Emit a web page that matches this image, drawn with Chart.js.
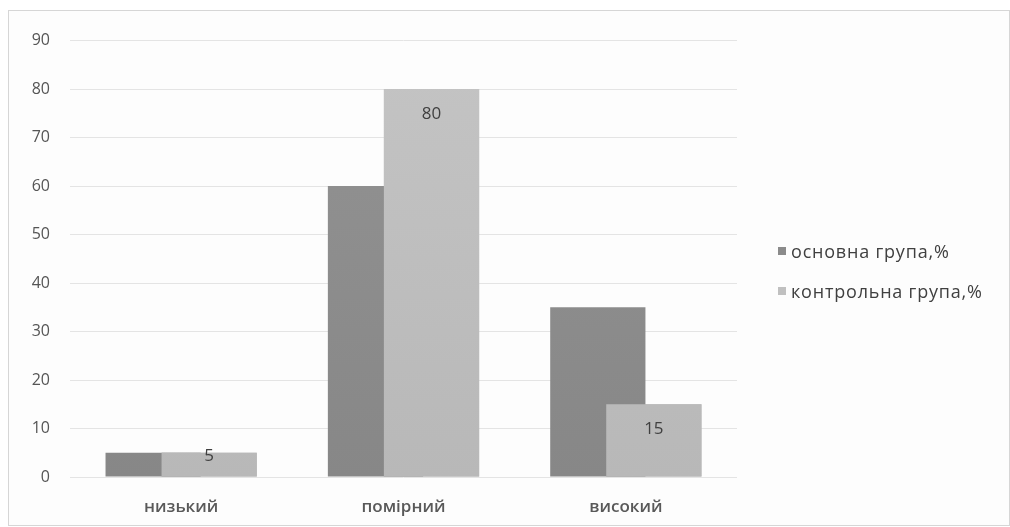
<!DOCTYPE html>
<html lang="uk">
<head>
<meta charset="utf-8">
<title>Рівні груп</title>
<script src="https://cdn.jsdelivr.net/npm/chart.js@4.4.1/dist/chart.umd.min.js"></script>
<style>
  html, body { margin: 0; padding: 0; background: #fff; }
  .frame {
    position: absolute; left: 8px; top: 10px;
    width: 1000px; height: 514px;
    border: 1px solid #d6d6d6;
    background: #fdfdfd;
  }
  .frame canvas { position: absolute; left: 0; top: 0; }
  .legend {
    position: absolute; left: 769px; top: 228px;
    font-family: "Open Sans", "Liberation Sans", Arial, sans-serif;
    font-size: 18px; letter-spacing: 0.8px; color: #404040;
  }
  .legend div { height: 40px; line-height: 24px; white-space: nowrap; }
  .legend span {
    display: inline-block; width: 8px; height: 8px;
    margin-right: 5px; vertical-align: 3px;
  }
</style>
</head>
<body>
<div class="frame">
  <canvas id="myChart" width="1000" height="514"></canvas>
  <div class="legend" id="legend"></div>
</div>
<script>
// Chart data
const categories = ['низький', 'помірний', 'високий'];
const mainGroup = [5, 60, 35];
const controlGroup = [5, 80, 15];
const yTicks = [0, 10, 20, 30, 40, 50, 60, 70, 80, 90];

const seriesLabels = ['основна група,%', 'контрольна група,%'];
const seriesColors = ['#8b8b8b', '#c0c0c0'];

const fontFamily = '"Open Sans", "Liberation Sans", Arial, sans-serif';

// soft vertical shading on bars
function shade(top, bottom) {
  return (ctx) => {
    const area = ctx.chart.chartArea;
    if (!area) return bottom;
    const g = ctx.chart.ctx.createLinearGradient(0, area.top, 0, area.bottom);
    g.addColorStop(0, top);
    g.addColorStop(1, bottom);
    return g;
  };
}

// control group bars sit in front of the main group bars,
// with their values written near the top
const frontBars = {
  id: 'frontBars',
  afterDatasetsDraw(chart) {
    const meta = chart.getDatasetMeta(1);
    meta.controller.draw();

    const ctx = chart.ctx;
    ctx.save();
    ctx.font = '17px ' + fontFamily;
    ctx.fillStyle = '#404040';
    ctx.textAlign = 'center';
    ctx.textBaseline = 'middle';
    meta.data.forEach((bar, i) => {
      const h = bar.base - bar.y;
      const y = h > 40 ? bar.y + 25 : bar.y + 3;
      ctx.fillText(String(chart.data.datasets[1].data[i]), bar.x, y);
    });
    ctx.restore();
  }
};

const data = {
  labels: categories,
  datasets: [{
    label: seriesLabels[0],
    data: mainGroup,
    backgroundColor: shade('#939393', '#878787'),
    legendColor: seriesColors[0],
    categoryPercentage: 0.504,
    barPercentage: 1.7
  }, {
    label: seriesLabels[1],
    data: controlGroup,
    backgroundColor: shade('#c4c4c4', '#b8b8b8'),
    legendColor: seriesColors[1],
    categoryPercentage: 0.504,
    barPercentage: 1.7
  }]
};

const options = {
  responsive: false,
  animation: false,
  layout: { padding: { top: 26, right: 272, left: 0, bottom: 0 } },
  plugins: {
    legend: { display: false },
    tooltip: { enabled: false }
  },
  scales: {
    x: {
      grid: { display: false },
      border: { display: false },
      ticks: { color: '#595959', font: { family: fontFamily, size: 17, weight: 600 }, padding: 12 },
      afterFit: (scale) => { scale.height = 48; }
    },
    y: {
      min: 0,
      max: 90,
      afterBuildTicks: (scale) => { scale.ticks = yTicks.map(v => ({ value: v })); },
      grid: { color: '#e4e4e4', drawTicks: false },
      border: { display: false },
      ticks: { color: '#555555', font: { family: fontFamily, size: 16 }, padding: 20 },
      afterFit: (scale) => { scale.width = 61; }
    }
  }
};

const ctx = document.getElementById('myChart');
const myChart = new Chart(ctx, {
  type: 'bar',
  data: data,
  options: options,
  plugins: [frontBars]
});

// legend on the right
const legend = document.getElementById('legend');
myChart.data.datasets.forEach(ds => {
  const row = document.createElement('div');
  const box = document.createElement('span');
  box.style.background = ds.legendColor;
  row.appendChild(box);
  row.appendChild(document.createTextNode(ds.label));
  legend.appendChild(row);
});
</script>
</body>
</html>
